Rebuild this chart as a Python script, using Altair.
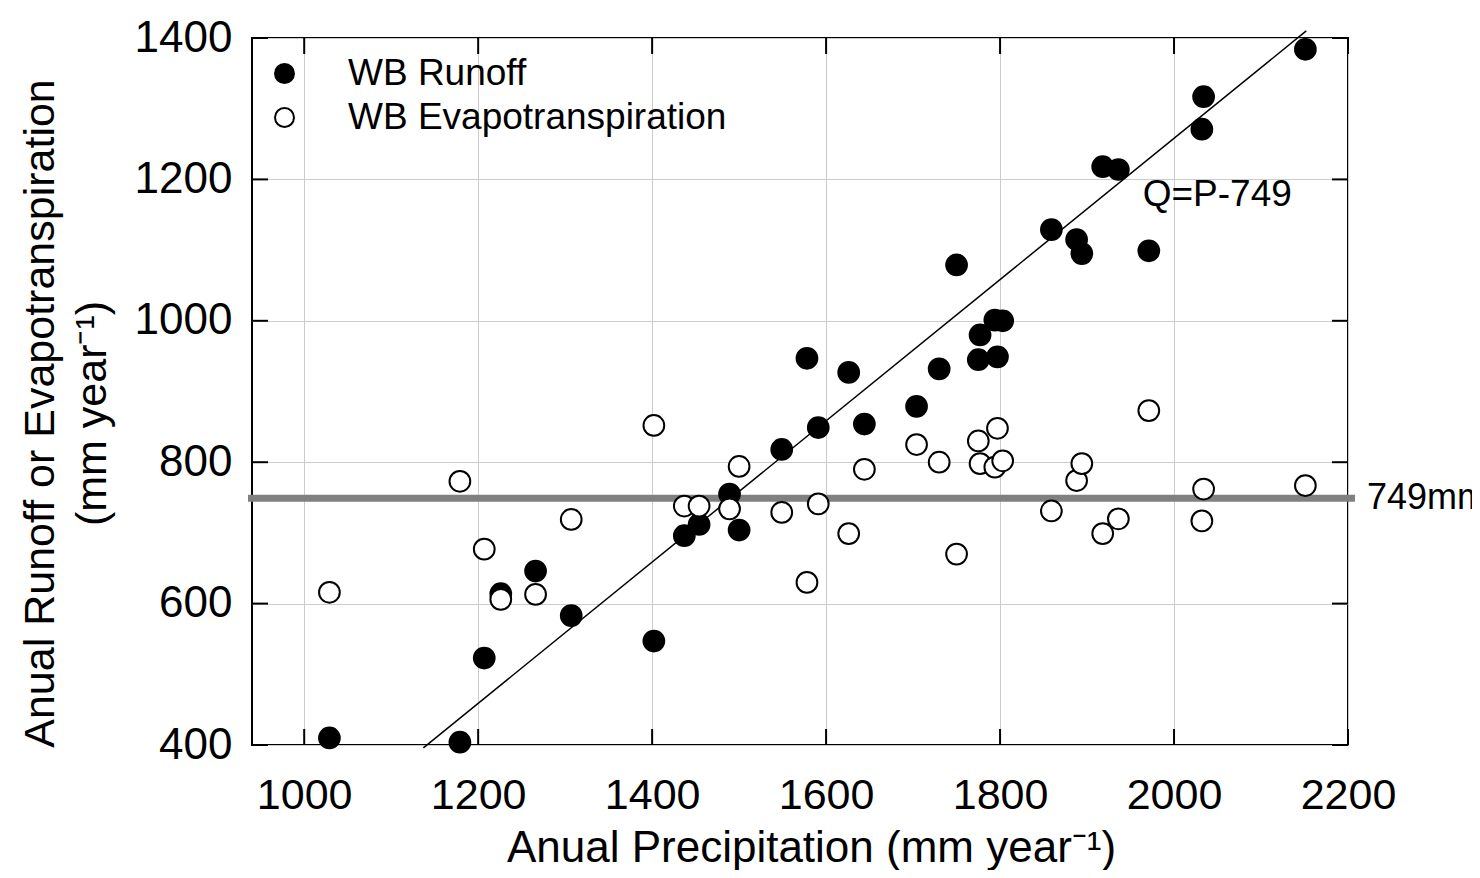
import altair as alt
import pandas as pd

# ---- data ----
precip = [1029, 1179, 1207, 1226, 1266, 1307, 1402, 1437, 1454, 1489, 1500,
          1549, 1578, 1591, 1626, 1644, 1704, 1730, 1750, 1775, 1777, 1794,
          1803, 1797, 1859, 1888, 1894, 1918, 1936, 1971, 2032, 2034, 2151]
runoff = [410, 404, 523, 614, 646, 583, 547, 696, 712, 755, 704,
          818, 947, 849, 927, 854, 879, 932, 1079, 945, 980, 1001,
          1000, 949, 1129, 1115, 1095, 1218, 1214, 1099, 1271, 1317, 1384]
evap = [616, 773, 677, 606, 613, 719, 852, 738, 738, 734, 794,
        729, 630, 741, 699, 790, 825, 800, 670, 830, 798, 793,
        802, 848, 731, 774, 798, 699, 720, 873, 717, 762, 767]

series_names = ["WB Runoff", "WB Evapotranspiration"]
series_fill = ["black", "white"]

x_ticks = [1000, 1200, 1400, 1600, 1800, 2000, 2200]
y_ticks = [400, 600, 800, 1000, 1200, 1400]
x_domain = [940, 2200]
y_domain = [400, 1400]

fit_p = [1137, 2152]
fit_q = [396, 1410]
fit_label = "Q=P-749"
fit_label_pos = [1964, 1178]

mean_et = [749]
mean_label = "749mm"

x_title = "Anual Precipitation (mm year\u207b\u00b9)"
y_title = ["Anual Runoff or Evapotranspiration", "(mm year\u207b\u00b9)"]

W, H = 1096, 707
FONT = "Liberation Sans"

# ---- tables ----
n = len(precip)
pts = pd.DataFrame({
    "P": precip + precip,
    "V": runoff + evap,
    "series": [series_names[0]] * n + [series_names[1]] * n,
})
fit_df = pd.DataFrame({"P": fit_p, "V": fit_q})
lab_df = pd.DataFrame({"P": [fit_label_pos[0]], "V": [fit_label_pos[1]], "t": [fit_label]})
mean_df = pd.DataFrame({"V": mean_et, "t": [mean_label]})
xt_df = pd.DataFrame({"P": x_ticks})
yt_df = pd.DataFrame({"V": y_ticks})

xs = alt.Scale(domain=x_domain, nice=False, zero=False)
ys = alt.Scale(domain=y_domain, nice=False, zero=False)

x_axis = alt.Axis(values=x_ticks, grid=True, gridColor="#cccccc", gridWidth=1,
                  ticks=False, domain=False, labelFontSize=43, labelPadding=29,
                  labelColor="black", labelFont=FONT, format="d", labelFlush=False,
                  title=x_title, titleFontSize=44, titleFont=FONT,
                  titleFontWeight="normal", titleColor="black",
                  titleX=559, titleY=81)
y_axis = alt.Axis(values=y_ticks, grid=True, gridColor="#cccccc", gridWidth=1,
                  ticks=False, domain=False, labelFontSize=44, labelPadding=20,
                  labelColor="black", labelFont=FONT, format="d", labelFlush=False,
                  title=y_title, titleFontSize=43, titleFont=FONT,
                  titleFontWeight="normal", titleColor="black",
                  titleLineHeight=52, titleX=-190, titleY=375)

X = lambda: alt.X("P:Q", scale=xs, axis=x_axis)
Y = lambda: alt.Y("V:Q", scale=ys, axis=y_axis)

points = alt.Chart(pts).mark_circle(
    size=430, stroke="black", strokeWidth=2, opacity=1, fillOpacity=1
).encode(
    x=X(),
    y=Y(),
    fill=alt.Fill("series:N",
                  scale=alt.Scale(domain=series_names, range=series_fill),
                  legend=alt.Legend(title=None, orient="none", legendX=14, legendY=17,
                                    symbolType="circle", symbolSize=360,
                                    symbolStrokeColor="black", symbolStrokeWidth=2,
                                    labelFontSize=37, labelFont=FONT, labelColor="black",
                                    labelOffset=45, rowPadding=6, padding=0,
                                    labelLimit=600)),
)

mean_rule = alt.Chart(mean_df).mark_rule(color="#808080", strokeWidth=7, opacity=1).encode(
    y=Y(), x=alt.value(-4), x2=alt.value(W + 7),
)
mean_text = alt.Chart(mean_df).mark_text(
    align="left", baseline="middle", fontSize=36, font=FONT, color="black"
).encode(y=Y(), x=alt.value(W + 19), text="t:N")

fit_line = alt.Chart(fit_df).mark_line(color="black", strokeWidth=1.5, clip=False).encode(
    x=X(), y=Y()
)
fit_text = alt.Chart(lab_df).mark_text(
    align="left", baseline="middle", fontSize=37, font=FONT, color="black"
).encode(x=X(), y=Y(), text="t:N")

tick_len = 16
tick_kw = dict(size=tick_len, thickness=2, color="black", opacity=1)
bot_ticks = alt.Chart(xt_df).mark_tick(orient="vertical", **tick_kw).encode(
    x=X(), y=alt.value(H - tick_len / 2))
top_ticks = alt.Chart(xt_df).mark_tick(orient="vertical", **tick_kw).encode(
    x=X(), y=alt.value(tick_len / 2))
left_ticks = alt.Chart(yt_df).mark_tick(orient="horizontal", **tick_kw).encode(
    y=Y(), x=alt.value(tick_len / 2))
right_ticks = alt.Chart(yt_df).mark_tick(orient="horizontal", **tick_kw).encode(
    y=Y(), x=alt.value(W - tick_len / 2))

chart = alt.layer(
    mean_rule, fit_line, points, fit_text, mean_text,
    bot_ticks, top_ticks, left_ticks, right_ticks,
).properties(
    width=W, height=H,
    autosize=alt.AutoSizeParams(type="none"),
    padding={"left": 244, "top": 30, "right": 124, "bottom": 125},
    background="white",
).configure(
    font=FONT,
    view=alt.ViewConfig(stroke="black", strokeWidth=2),
)

chart.save("out.html", embed_options={"renderer": "svg", "actions": False})
